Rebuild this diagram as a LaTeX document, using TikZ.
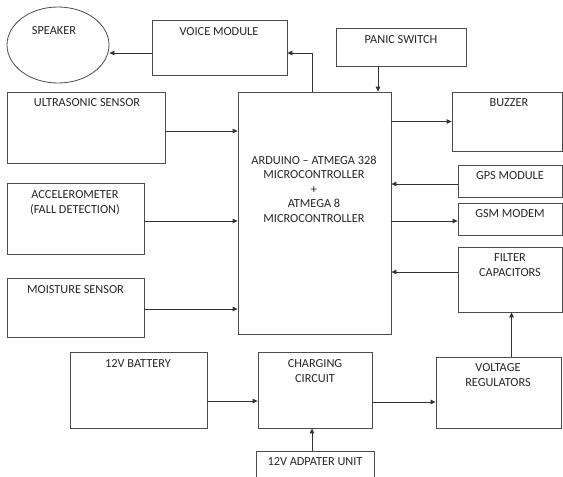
\documentclass[tikz,border=0pt]{standalone}
\usepackage{fontspec}
\setmainfont{Carlito}
\usetikzlibrary{arrows.meta,shapes.geometric}

\begin{document}
\begin{tikzpicture}[x=1pt, y=-1pt,
    box/.style={draw=black!70, line width=0.8pt, rectangle, inner sep=0pt},
    lbl/.style={text=black!85, font=\fontsize{12.3}{14.5}\selectfont, align=center, inner sep=0pt},
    arr/.style={draw=black!80, line width=0.8pt, -{Triangle[length=5pt,width=4.5pt]}}]
    \useasboundingbox (0,0) rectangle (563,477);

    % Uscite in alto
    \node (spk) at (58,45) [box, ellipse, minimum width=102, minimum height=76] {};
    \node (voice) at (219.5,47.5) [box, minimum width=135, minimum height=55] {};
    \node (panic) at (401,47) [box, minimum width=130, minimum height=38] {};

    % Sensori a sinistra
    \node (ultra) at (86,127.5) [box, minimum width=158, minimum height=71] {};
    \node (accel) at (75.5,218.5) [box, minimum width=137, minimum height=71] {};
    \node (moist) at (75.5,307.5) [box, minimum width=137, minimum height=59] {};

    % Microcontrollore
    \node (ard) at (314.5,213) [box, minimum width=153, minimum height=242] {};

    % Moduli a destra
    \node (buzz) at (507,121.5) [box, minimum width=110, minimum height=59] {};
    \node (gps) at (510,181) [box, minimum width=104, minimum height=32] {};
    \node (gsm) at (510,219) [box, minimum width=104, minimum height=32] {};
    \node (filt) at (510,279.5) [box, minimum width=104, minimum height=65] {};

    % Alimentazione
    \node (batt) at (138.5,390) [box, minimum width=137, minimum height=76] {};
    \node (chg) at (315,390) [box, minimum width=114, minimum height=76] {};
    \node (volt) at (498.5,392.5) [box, minimum width=125, minimum height=71] {};
    \node (adapt) at (315,470) [box, minimum width=118, minimum height=38] {};

    % Testi
    \node (spkT) at (54,31) [lbl] {SPEAKER};
    \node (voiceT) at (219,32) [lbl] {VOICE MODULE};
    \node (panicT) at (401,40) [lbl] {PANIC SWITCH};
    \node (ultraT) at (87,103) [lbl] {ULTRASONIC SENSOR};
    \node (accelT) at (75,203) [lbl] {ACCELEROMETER\\(FALL DETECTION)};
    \node (moistT) at (75.5,290) [lbl] {MOISTURE SENSOR};
    \node (ardT) at (314,189) [lbl] {ARDUINO – ATMEGA 328\\MICROCONTROLLER\\+\\ATMEGA 8\\MICROCONTROLLER};
    \node (buzzT) at (509,103) [lbl] {BUZZER};
    \node (gpsT) at (510,176) [lbl] {GPS MODULE};
    \node (gsmT) at (510,214) [lbl] {GSM MODEM};
    \node (filtT) at (510,265) [lbl] {FILTER\\CAPACITORS};
    \node (battT) at (138,364) [lbl] {12V BATTERY};
    \node (chgT) at (315,371) [lbl] {CHARGING\\CIRCUIT};
    \node (voltT) at (498,375) [lbl] {VOLTAGE\\REGULATORS};
    \node (adaptT) at (315,462) [lbl] {12V ADPATER UNIT};

    % Collegamenti
    \draw[arr] ([yshift=-5.5pt]voice.west) -- ([yshift=-8pt]spk.east);
    \draw[arr] ([xshift=-2.5pt]ard.north) |- ([yshift=-5.5pt]voice.east);
    \draw[arr] ([xshift=-23pt]panic.south) -- ([xshift=-23pt]panic.south |- ard.north);
    \draw[arr] ([yshift=-3.5pt]ultra.east) -- ([yshift=-3.5pt]ultra.east -| ard.west);
    \draw[arr] ([yshift=-2.5pt]accel.east) -- ([yshift=-2.5pt]accel.east -| ard.west);
    \draw[arr] ([yshift=-1.5pt]moist.east) -- ([yshift=-1.5pt]moist.east -| ard.west);
    \draw[arr] (buzz.west -| ard.east) -- (buzz.west);
    \draw[arr] ([yshift=-3pt]gps.west) -- ([yshift=-3pt]gps.west -| ard.east);
    \draw[arr] ([yshift=-2pt]gsm.west -| ard.east) -- ([yshift=-2pt]gsm.west);
    \draw[arr] ([yshift=7.5pt]filt.west) -- ([yshift=7.5pt]filt.west -| ard.east);
    \draw[arr] ([xshift=1.5pt]filt.south |- volt.north) -- ([xshift=1.5pt]filt.south);
    \draw[arr] ([yshift=-11pt]batt.east) -- ([yshift=-11pt]batt.east -| chg.west);
    \draw[arr] ([yshift=-12pt]chg.east) -- ([yshift=-12pt]chg.east -| volt.west);
    \draw[arr] ([xshift=-3pt]adapt.north) -- ([xshift=-3pt]chg.south);
\end{tikzpicture}
\end{document}
